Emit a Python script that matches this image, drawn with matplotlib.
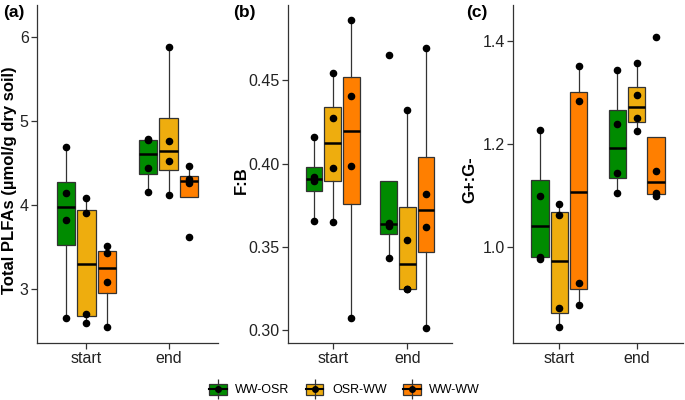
import matplotlib
matplotlib.use("Agg")
import matplotlib.pyplot as plt
from matplotlib.patches import Patch
from matplotlib.lines import Line2D
from matplotlib.legend_handler import HandlerTuple

plt.rcParams['font.family'] = ['Liberation Sans', 'DejaVu Sans']

# Categories
groups = ['WW-OSR', 'OSR-WW', 'WW-WW']
times = ['start', 'end']
colors = ['#008B00', '#EEAD0E', '#FF7F00']

# Total PLFAs, four replicates per group (order follows groups)
plfa_start = [[2.65, 3.82, 4.14, 4.69], [2.59, 2.70, 3.90, 4.08], [2.55, 3.08, 3.43, 3.51]]
plfa_end = [[4.15, 4.44, 4.77, 4.78], [4.12, 4.52, 4.76, 5.88], [3.62, 4.26, 4.31, 4.46]]

# F:B ratio
fb_start = [[0.3657, 0.3892, 0.3916, 0.4157], [0.3651, 0.3976, 0.4271, 0.4542], [0.3072, 0.3988, 0.4405, 0.4861]]
fb_end = [[0.3434, 0.3627, 0.3645, 0.4651], [0.3245, 0.3249, 0.3542, 0.4319], [0.3012, 0.3621, 0.3819, 0.4693]]

# G+:G- ratio
gg_start = [[0.977, 0.981, 1.099, 1.227], [0.845, 0.882, 1.062, 1.084], [0.887, 0.930, 1.284, 1.352]]
gg_end = [[1.105, 1.144, 1.239, 1.344], [1.225, 1.250, 1.295, 1.357], [1.099, 1.105, 1.148, 1.408]]

panels = [
    ('(a)', 'Total PLFAs (µmol/g dry soil)', [plfa_start, plfa_end], (2.357, 6.38), [3, 4, 5, 6], ['3', '4', '5', '6']),
    ('(b)', 'F:B', [fb_start, fb_end], (0.2922, 0.4952), [0.30, 0.35, 0.40, 0.45], ['0.30', '0.35', '0.40', '0.45']),
    ('(c)', 'G+:G-', [gg_start, gg_end], (0.8136, 1.470), [1.0, 1.2, 1.4], ['1.0', '1.2', '1.4']),
]

# axes rectangles in figure coords
rects = [
    [37 / 685, 57 / 400, 181 / 685, 338 / 400],
    [288 / 685, 57 / 400, 164 / 685, 338 / 400],
    [513 / 685, 57 / 400, 170 / 685, 338 / 400],
]
tag_x = [3 / 685, 233 / 685, 466 / 685]
ylab_x = [10 / 685, 241 / 685, 470 / 685]

fig = plt.figure(figsize=(6.85, 4.0), dpi=100)
axcol = '#333333'

for k, (tag, ylab, data, ylim, yt, ytl) in enumerate(panels):
    ax = fig.add_axes(rects[k])
    for t in range(len(times)):
        for g in range(len(groups)):
            pos = t + 1 + (g - 1) * 0.25
            vals = data[t][g]
            ax.boxplot([vals], positions=[pos], widths=0.225, patch_artist=True,
                       showfliers=False, showcaps=False,
                       boxprops=dict(facecolor=colors[g], edgecolor=axcol, linewidth=0.9),
                       medianprops=dict(color='black', linewidth=1.8),
                       whiskerprops=dict(color=axcol, linewidth=0.9))
            ax.scatter([pos] * len(vals), vals, color='black', s=20, zorder=3)
    ax.set_xlim(0.4, 2.6)
    ax.set_ylim(*ylim)
    ax.set_xticks([1, 2])
    ax.set_xticklabels(times)
    ax.set_yticks(yt)
    ax.set_yticklabels(ytl)
    ax.tick_params(labelsize=11.5, colors=axcol, labelcolor='#222222', length=4, width=0.9, pad=2)
    for s in ['top', 'right']:
        ax.spines[s].set_visible(False)
    for s in ['left', 'bottom']:
        ax.spines[s].set_color(axcol)
        ax.spines[s].set_linewidth(0.9)
    fig.text(ylab_x[k], (400 - 180) / 400, ylab, rotation=90,
             ha='center', va='center', fontsize=12, fontweight='bold')
    fig.text(tag_x[k], 0.968, tag, ha='left', va='center', fontsize=12.5, fontweight='bold')

handles = []
for c in colors:
    handles.append((Patch(facecolor=c, edgecolor=axcol, linewidth=0.9),
                    Line2D([], [], color=axcol, marker='|', markersize=15, linestyle='none', markeredgewidth=0.9),
                    Line2D([], [], color='black', marker='o', markersize=4, linewidth=1.5)))
fig.legend(handles, groups, handler_map={tuple: HandlerTuple(ndivide=1)},
           loc='center', bbox_to_anchor=(0.503, 0.025), ncol=3, frameon=False,
           fontsize=9, handlelength=1.4, handleheight=1.0, columnspacing=1.3, handletextpad=0.7)

fig.savefig('out.png', dpi=100)
